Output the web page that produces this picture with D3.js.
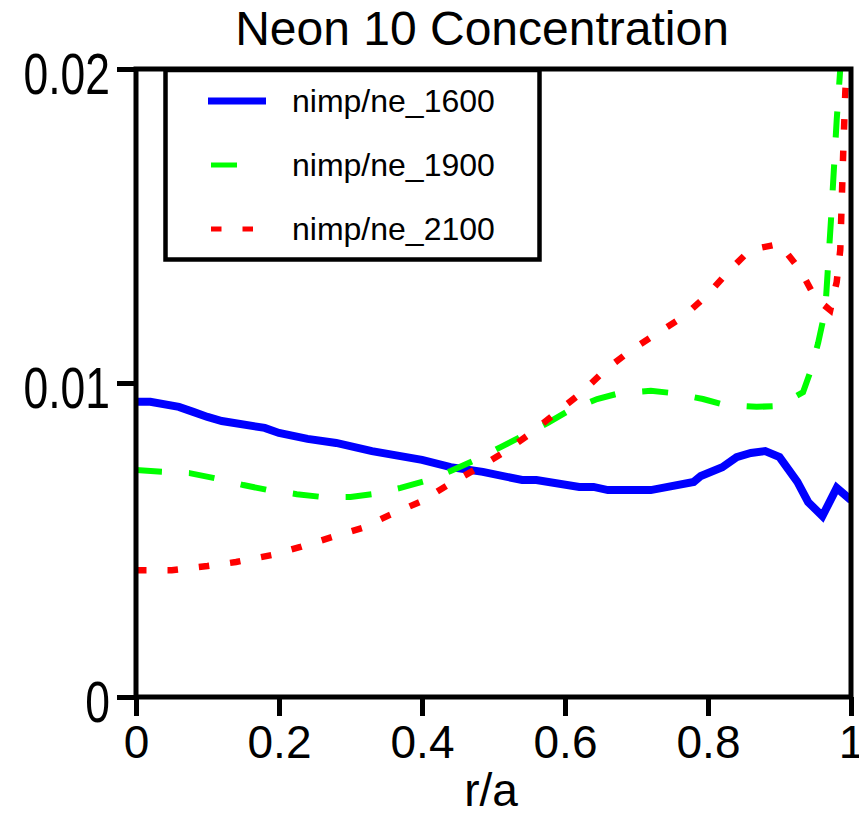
<!DOCTYPE html>
<html>
<head>
<meta charset="utf-8">
<script src="https://cdn.jsdelivr.net/npm/d3@7"></script>
<style>
  body { margin: 0; background: #fff; }
  svg { display: block; font-family: "Liberation Sans", Arial, sans-serif; }
</style>
</head>
<body>
<div id="chart"></div>
<script>
const X_TICKS = [0, 0.2, 0.4, 0.6, 0.8, 1]
const Y_TICKS = [0, 0.01, 0.02]

// nimp/ne_1600
const ra1600 = [0, 0.02, 0.06, 0.08, 0.10, 0.12, 0.18, 0.20, 0.24, 0.28, 0.33, 0.40, 0.44, 0.485, 0.54, 0.56, 0.62, 0.64, 0.66, 0.72, 0.78, 0.79, 0.82, 0.84, 0.86, 0.88, 0.90, 0.925, 0.94, 0.96, 0.98, 1.0]
const n1600 = [0.00940, 0.00940, 0.00924, 0.00908, 0.00892, 0.00879, 0.00857, 0.00841, 0.00822, 0.00809, 0.00783, 0.00755, 0.00732, 0.00717, 0.00691, 0.00691, 0.00669, 0.00669, 0.00659, 0.00659, 0.00685, 0.00704, 0.00732, 0.00764, 0.00777, 0.00783, 0.00764, 0.00685, 0.00621, 0.00576, 0.00666, 0.00627]

// nimp/ne_1900
const ra1900 = [0, 0.036, 0.075, 0.11, 0.15, 0.185, 0.225, 0.26, 0.30, 0.33, 0.37, 0.405, 0.44, 0.475, 0.51, 0.54, 0.576, 0.607, 0.645, 0.677, 0.72, 0.75, 0.793, 0.824, 0.868, 0.898, 0.933, 0.943, 0.954, 0.964, 0.968, 0.972, 0.976, 0.980, 0.985, 1.0]
const n1900 = [0.00723, 0.00717, 0.00713, 0.00697, 0.00675, 0.00659, 0.00646, 0.00637, 0.00637, 0.00646, 0.00666, 0.00688, 0.00720, 0.00755, 0.00796, 0.00831, 0.00873, 0.00914, 0.00949, 0.00968, 0.00975, 0.00968, 0.00949, 0.00930, 0.00924, 0.00927, 0.00971, 0.01035, 0.01127, 0.01232, 0.01376, 0.01519, 0.01678, 0.01838, 0.02000, 0.02400]

// nimp/ne_2100
const ra2100 = [0, 0.05, 0.10, 0.14, 0.19, 0.23, 0.275, 0.316, 0.355, 0.397, 0.436, 0.478, 0.513, 0.551, 0.587, 0.624, 0.656, 0.691, 0.729, 0.765, 0.799, 0.828, 0.859, 0.90, 0.929, 0.95, 0.971, 0.98, 0.985, 0.989, 0.992, 0.995]
const n2100 = [0.00404, 0.00404, 0.00417, 0.00430, 0.00452, 0.00478, 0.00510, 0.00538, 0.00580, 0.00621, 0.00675, 0.00729, 0.00777, 0.00838, 0.00904, 0.00971, 0.01041, 0.01102, 0.01159, 0.01210, 0.01280, 0.01354, 0.01424, 0.01443, 0.01360, 0.01271, 0.01232, 0.01322, 0.01424, 0.01726, 0.01924, 0.02060]

const SERIES = [
  { name: "nimp/ne_1600", xs: ra1600, ys: n1600, color: "#0000ff", width: 8, dash: null, legLen: [208, 266] },
  { name: "nimp/ne_1900", xs: ra1900, ys: n1900, color: "#00ff00", width: 6, dash: "26,27", legLen: [211, 262] },
  { name: "nimp/ne_2100", xs: ra2100, ys: n2100, color: "#ff0000", width: 6.5, dash: "10.5,21", legLen: [211, 262] },
]

const W = 859, H = 813
const mLeft = 136, mRight = 851, mTop = 69, mBottom = 697

const svg = d3.select("#chart").append("svg")
  .attr("width", W)
  .attr("height", H)

const x = d3.scaleLinear().domain([0, 1]).range([mLeft, mRight])
const y = d3.scaleLinear().domain([0, 0.02]).range([mBottom, mTop])

svg.append("defs").append("clipPath")
  .attr("id", "plot-clip")
  .append("rect")
  .attr("x", mLeft).attr("y", mTop)
  .attr("width", mRight - mLeft).attr("height", mBottom - mTop)

// Title
svg.append("text")
  .attr("x", 482).attr("y", 45)
  .attr("text-anchor", "middle")
  .attr("font-size", 48)
  .text("Neon 10 Concentration")

// Series lines
const line = d3.line().x(d => x(d[0])).y(d => y(d[1]))
const plot = svg.append("g").attr("clip-path", "url(#plot-clip)")
SERIES.forEach(s => {
  plot.append("path")
    .datum(d3.zip(s.xs, s.ys))
    .attr("fill", "none")
    .attr("stroke", s.color)
    .attr("stroke-width", s.width)
    .attr("stroke-dasharray", s.dash)
    .attr("stroke-linejoin", "miter")
    .attr("d", line)
})

// Frame
svg.append("rect")
  .attr("x", mLeft).attr("y", mTop)
  .attr("width", mRight - mLeft).attr("height", mBottom - mTop)
  .attr("fill", "none")
  .attr("stroke", "#000")
  .attr("stroke-width", 5)

// X axis
const xAxis = svg.append("g")
  .attr("transform", `translate(0,${mBottom})`)
  .call(d3.axisBottom(x).tickValues(X_TICKS).tickSize(19).tickFormat(d3.format("")))
xAxis.select(".domain").remove()
xAxis.selectAll(".tick line").attr("stroke-width", 5)
xAxis.selectAll(".tick text")
  .attr("y", 61).attr("dy", null)
  .attr("font-size", 46)
  .attr("font-family", "Liberation Sans, Arial, sans-serif")
  .attr("fill", "#000")

// Y axis
const yAxis = svg.append("g")
  .attr("transform", `translate(${mLeft},0)`)
  .call(d3.axisLeft(y).tickValues(Y_TICKS).tickSize(19).tickFormat(d3.format("")))
yAxis.select(".domain").remove()
yAxis.selectAll(".tick line").attr("stroke-width", 5)
yAxis.selectAll(".tick text").remove()
yAxis.selectAll(".tick").append("text")
  .attr("transform", "translate(-26,24) scale(0.78,1)")
  .attr("text-anchor", "end")
  .attr("font-size", 57)
  .attr("font-family", "Liberation Sans, Arial, sans-serif")
  .attr("fill", "#000")
  .text(d => d3.format("")(d))

// X label
svg.append("text")
  .attr("x", 491).attr("y", 806)
  .attr("text-anchor", "middle")
  .attr("font-size", 46)
  .text("r/a")

// Legend
const legend = svg.append("g")
legend.append("rect")
  .attr("x", 165.5).attr("y", 70)
  .attr("width", 374).attr("height", 189.5)
  .attr("fill", "#fff")
  .attr("stroke", "#000")
  .attr("stroke-width", 4.5)

SERIES.forEach((s, i) => {
  const ly = 101 + i * 64
  legend.append("line")
    .attr("x1", s.legLen[0]).attr("x2", s.legLen[1])
    .attr("y1", ly).attr("y2", ly)
    .attr("stroke", s.color)
    .attr("stroke-width", s.width === 8 ? 7 : 5)
    .attr("stroke-dasharray", s.dash)
  legend.append("text")
    .attr("x", 292).attr("y", ly + 11)
    .attr("font-size", 32)
    .text(s.name)
})
</script>
</body>
</html>
